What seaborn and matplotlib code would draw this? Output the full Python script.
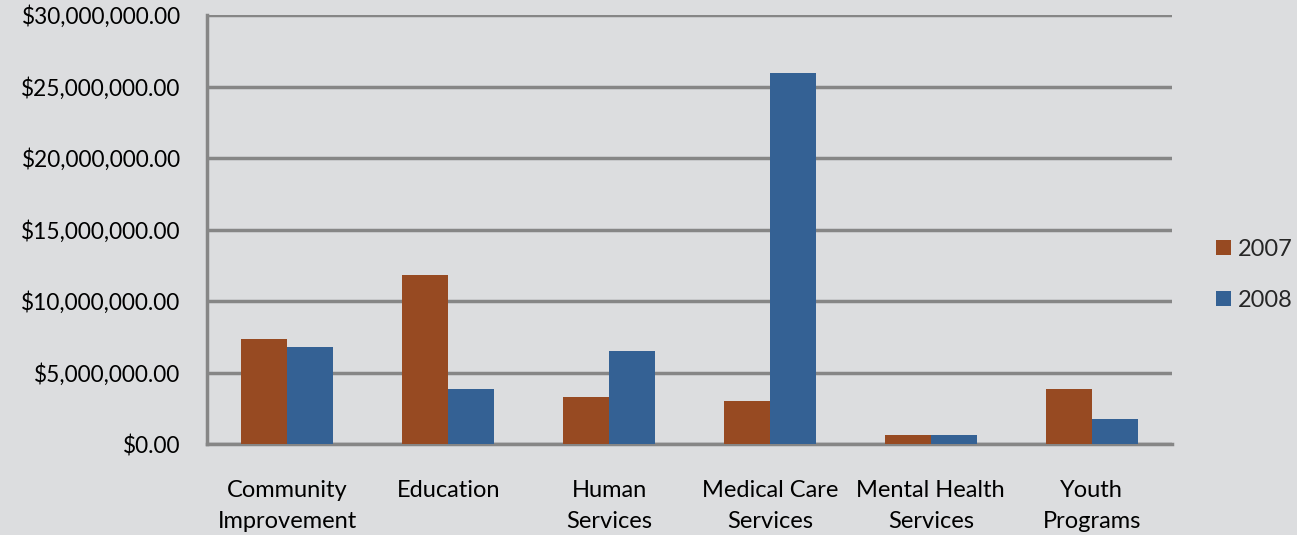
import matplotlib
matplotlib.use("Agg")
import matplotlib.pyplot as plt
import matplotlib.ticker as mticker
import seaborn as sns
import pandas as pd
import numpy as np

categories = ["Community\nImprovement", "Education", "Human\nServices",
              "Medical Care\nServices", "Mental Health\nServices", "Youth\nPrograms"]
values_2007 = [7.33e6, 11.82e6, 3.30e6, 3.04e6, 0.64e6, 3.85e6]
values_2008 = [6.77e6, 3.83e6, 6.50e6, 25.94e6, 0.64e6, 1.77e6]
years = ["2007", "2008"]

df = pd.DataFrame({
    "category": categories * 2,
    "year": [years[0]] * len(categories) + [years[1]] * len(categories),
    "value": values_2007 + values_2008,
})

sns.set_theme(style="white")
plt.rcParams["font.family"] = ["Lato", "DejaVu Sans"]

bg = "#DCDDDF"
fig = plt.figure(figsize=(12.97, 5.35), dpi=100, facecolor=bg)
ax = fig.add_axes([207/1297, (535-444)/535, (1172-207)/1297, (444-15)/535])
ax.set_facecolor(bg)

sns.barplot(data=df, x="category", y="value", hue="year",
            palette={"2007": "#974A22", "2008": "#346194"},
            width=0.572, saturation=1, ax=ax, linewidth=0, zorder=3)

ax.set_ylim(0, 30e6)
ax.set_xlim(-0.5, len(categories) - 0.5)
ax.yaxis.set_major_locator(mticker.MultipleLocator(5e6))
ax.yaxis.set_major_formatter(mticker.FuncFormatter(lambda v, p: f"${v:,.2f}"))
ax.grid(axis="y", color="#868686", linewidth=2.5, zorder=0)
ax.set_axisbelow(True)

for s in ["top", "right"]:
    ax.spines[s].set_visible(False)
for s in ["left", "bottom"]:
    ax.spines[s].set_visible(True)
    ax.spines[s].set_color("#868686")
    ax.spines[s].set_linewidth(2.5)

ax.tick_params(axis="y", which="major", length=7, width=2.5, color="#868686",
               labelsize=16.3, labelcolor="#000000", pad=12, direction="out")
ax.set_xticks(range(len(categories)))
ax.set_xticklabels(categories, fontsize=17, color="#000000", linespacing=1.6)
ax.tick_params(axis="x", which="major", length=0, pad=26)
ax.set_xticks(np.arange(-0.5, len(categories), 1.0), minor=True)
ax.tick_params(axis="x", which="minor", length=7, width=2.5, color="#868686", direction="out")
ax.set_xlabel("")
ax.set_ylabel("")

leg = ax.legend(loc="center left", bbox_to_anchor=(1.024, 0.394), frameon=False,
                fontsize=17, handlelength=0.6, handleheight=0.6, handletextpad=0.3,
                labelspacing=1.25)

fig.savefig("out.png", dpi=100, facecolor=bg)
